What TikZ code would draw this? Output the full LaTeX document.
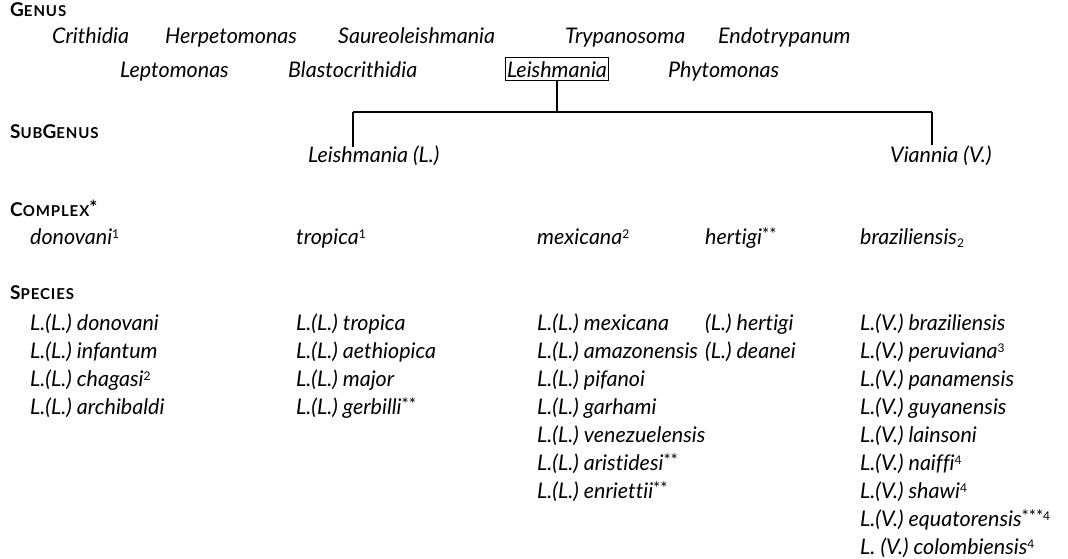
\documentclass[tikz,border=0pt]{standalone}
\usepackage{fontspec}
\setmainfont{Lato}[Ligatures={NoCommon}]
\newfontfamily\hdfont{Lato}[LetterSpace=6]
\newcommand\hdbig{\fontsize{19}{19}\selectfont}
\newcommand\hdsmall{\fontsize{15}{15}\selectfont}
\newcommand\hd[2]{{\hdfont\bfseries\hdbig #1\hdsmall #2}}
\newcommand\supn[1]{\raisebox{0.55ex}{\fontsize{12}{12}\selectfont\upshape #1}}
\newcommand\subn[1]{\raisebox{-0.35ex}{\fontsize{12}{12}\selectfont\upshape #1}}
\newcommand\stars[1]{\raisebox{0.3ex}{\fontsize{17}{17}\selectfont\upshape #1}}
\tikzset{
  txt/.style={anchor=base west, inner sep=0pt, font=\fontsize{21.5}{23}\selectfont\itshape},
  head/.style={anchor=base west, inner sep=0pt},
  boxed/.style={txt, draw, line width=1.1pt, inner xsep=1.5pt, inner ysep=3.5pt},
  link/.style={line width=1.3pt}
}
\begin{document}
\begin{tikzpicture}[x=1pt,y=-1pt]
\useasboundingbox (0,0) rectangle (1068,558);
% headings
\node[head] (hGenus) at (10,16) {\hd{G}{ENUS}};
\node[head] (hSub) at (10,138) {\hd{S}{UB}\hd{G}{ENUS}};
\node[head] (hComplex) at (10,216) {\hd{C}{OMPLEX}\raisebox{0.3ex}{\fontsize{19}{19}\selectfont\bfseries *}};
\node[head] (hSpecies) at (10,299) {\hd{S}{PECIES}};
% genus
\node[txt] (g1) at (52,43) {Crithidia};
\node[txt] (g2) at (165,43) {Herpetomonas};
\node[txt] (g3) at (338,43) {Saureoleishmania};
\node[txt] (g4) at (565,43) {Trypanosoma};
\node[txt] (g5) at (718,43) {Endotrypanum};
\node[txt] (g6) at (120,77) {Leptomonas};
\node[txt] (g7) at (288,77) {Blastocrithidia};
\node[boxed] (leish) at (505,77) {Leishmania};
\node[txt] (g9) at (668,77) {Phytomonas};
% subgenus
\node[txt] (subL) at (308,162) {Leishmania (L.)};
\node[txt] (subV) at (890,162) {Viannia (V.)};
\coordinate (jC) at (leish.south |- 0,112);
\coordinate (jL) at (353,112);
\coordinate (jV) at (932,112);
\coordinate (eL) at (353,147);
\coordinate (eV) at (932,145);
\draw[link] (leish.south) -- (jC);
\draw[link] (jL) -- (jV);
\draw[link] (jL) -- (eL);
\draw[link] (jV) -- (eV);
% complex
\node[txt] (c1) at (30,244) {donovani\supn{1}};
\node[txt] (c2) at (296,244) {tropica\supn{1}};
\node[txt] (c3) at (537,244) {mexicana\supn{2}};
\node[txt] (c4) at (705,244) {hertigi\stars{**}};
\node[txt] (c5) at (860,244) {braziliensis\subn{2}};
% species column 1
\node[txt] (s11) at (30,330) {L.(L.) donovani};
\node[txt] (s12) at (30,358) {L.(L.) infantum};
\node[txt] (s13) at (30,386) {L.(L.) chagasi\supn{2}};
\node[txt] (s14) at (30,414) {L.(L.) archibaldi};
% column 2
\node[txt] (s21) at (296,330) {L.(L.) tropica};
\node[txt] (s22) at (296,358) {L.(L.) aethiopica};
\node[txt] (s23) at (296,386) {L.(L.) major};
\node[txt] (s24) at (296,414) {L.(L.) gerbilli\stars{**}};
% column 3
\node[txt] (s31) at (537,330) {L.(L.) mexicana};
\node[txt] (s32) at (537,358) {L.(L.) amazonensis};
\node[txt] (s33) at (537,386) {L.(L.) pifanoi};
\node[txt] (s34) at (537,414) {L.(L.) garhami};
\node[txt] (s35) at (537,442) {L.(L.) venezuelensis};
\node[txt] (s36) at (537,470) {L.(L.) aristidesi\stars{**}};
\node[txt] (s37) at (537,498) {L.(L.) enriettii\stars{**}};
% column 4
\node[txt] (s41) at (705,330) {(L.) hertigi};
\node[txt] (s42) at (705,358) {(L.) deanei};
% column 5
\node[txt] (s51) at (860,330) {L.(V.) braziliensis};
\node[txt] (s52) at (860,358) {L.(V.) peruviana\supn{3}};
\node[txt] (s53) at (860,386) {L.(V.) panamensis};
\node[txt] (s54) at (860,414) {L.(V.) guyanensis};
\node[txt] (s55) at (860,442) {L.(V.) lainsoni};
\node[txt] (s56) at (860,470) {L.(V.) naiffi\supn{4}};
\node[txt] (s57) at (860,498) {L.(V.) shawi\supn{4}};
\node[txt] (s58) at (860,526) {L.(V.) equatorensis\stars{***}\supn{4}};
\node[txt] (s59) at (860,554) {L. (V.) colombiensis\supn{4}};
\end{tikzpicture}
\end{document}
